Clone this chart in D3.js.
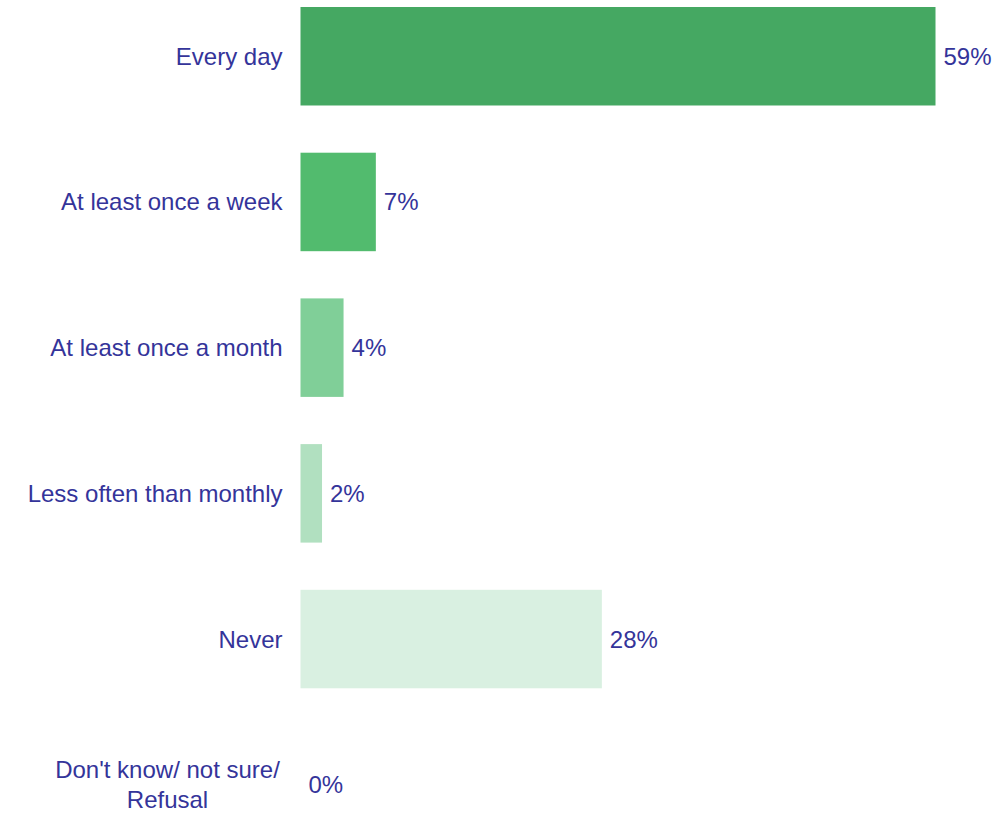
<!DOCTYPE html>
<html>
<head>
<meta charset="utf-8">
<script src="https://cdn.jsdelivr.net/npm/d3@7"></script>
<style>
  html, body { margin: 0; padding: 0; background: #ffffff; }
  svg { display: block; }
  text { font-family: "Liberation Sans", Arial, sans-serif; }
</style>
</head>
<body>
<svg id="chart" width="996" height="814"></svg>
<script>
// Frequency categories (multi-line labels split on "\n")
const categories = [
  "Every day",
  "At least once a week",
  "At least once a month",
  "Less often than monthly",
  "Never",
  "Don't know/ not sure/\nRefusal"
];
// Share of respondents, percent
const values = [59, 7, 4, 2, 28, 0];
// Bar fill per category, darkest to lightest
const barColors = ["#45a862", "#52bb6e", "#80cf98", "#b1e0c0", "#d9f0e1", "#eef8f1"];

const svg = d3.select("#chart");
const textColor = "#34349a";
const fontSize = 24;

const x = d3.scaleLinear().domain([0, 59]).range([300.5, 935.5]);
const y = d3.scaleBand()
  .domain(categories)
  .range([7, 834])
  .paddingInner(0.324)
  .paddingOuter(0);

const rows = categories.map((c, i) => ({ cat: c, value: values[i], color: barColors[i] }));

// Bars
svg.append("g").selectAll("rect")
  .data(rows)
  .join("rect")
  .attr("x", x(0))
  .attr("y", d => y(d.cat))
  .attr("width", d => x(d.value) - x(0))
  .attr("height", y.bandwidth())
  .attr("fill", d => d.color);

// Category labels (left axis, no line or ticks)
const yAxis = d3.axisLeft(y).tickSize(0).tickPadding(18).tickFormat("");
const axisG = svg.append("g")
  .attr("transform", `translate(${x(0)},0)`)
  .call(yAxis);
axisG.select(".domain").remove();

axisG.selectAll(".tick").each(function(d) {
  const lines = d.split("\n");
  const lineH = 30;
  const multi = lines.length > 1;
  const tx = multi ? -133 : -18;
  const t = d3.select(this).append("text")
    .attr("fill", textColor)
    .attr("font-size", fontSize)
    .attr("text-anchor", multi ? "middle" : "end")
    .attr("x", tx);
  lines.forEach((ln, k) => {
    t.append("tspan")
      .attr("x", tx)
      .attr("dy", k === 0 ? ((-(lines.length - 1) / 2) * lineH) : lineH)
      .attr("dominant-baseline", "central")
      .text(ln);
  });
});

// Value labels
svg.append("g").selectAll("text")
  .data(rows)
  .join("text")
  .attr("x", d => x(d.value) + 8)
  .attr("y", d => y(d.cat) + y.bandwidth() / 2)
  .attr("dominant-baseline", "central")
  .attr("fill", textColor)
  .attr("font-size", fontSize)
  .text(d => d.value + "%");
</script>
</body>
</html>
